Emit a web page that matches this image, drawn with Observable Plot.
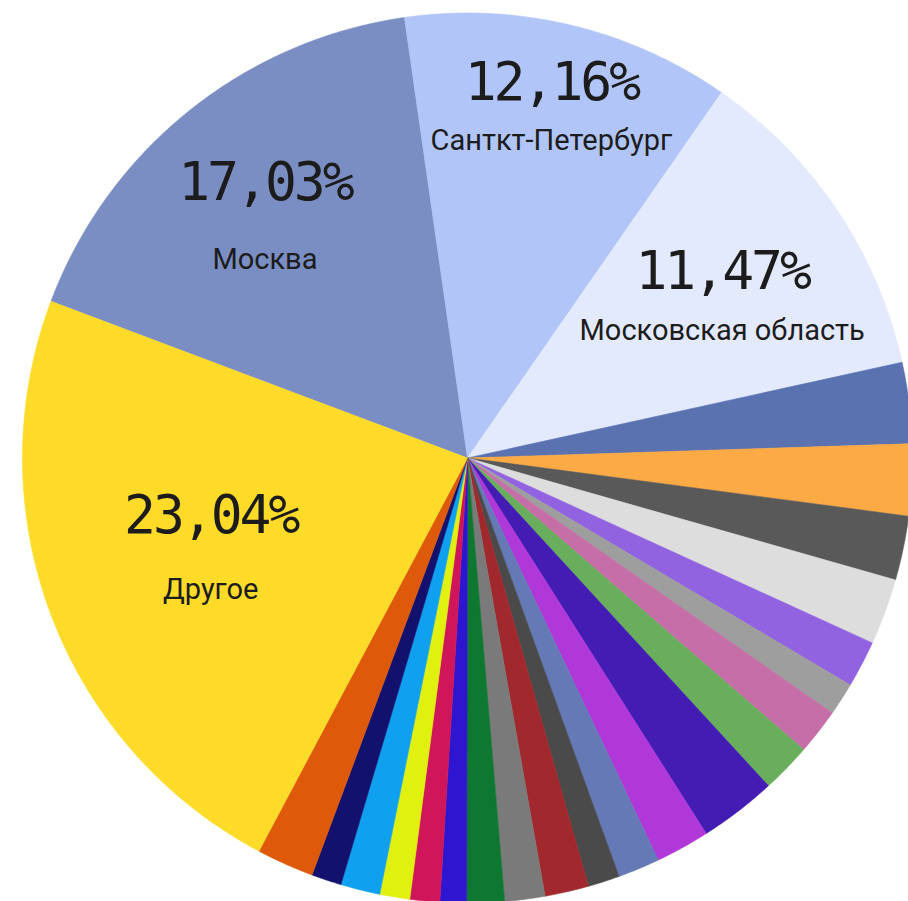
<!DOCTYPE html>
<html>
<head>
<meta charset="utf-8">
<script src="https://cdn.jsdelivr.net/npm/d3@7"></script>
<script src="https://cdn.jsdelivr.net/npm/@observablehq/plot@0.6"></script>
<style>
html, body { margin: 0; padding: 0; background: #ffffff; overflow: hidden; }
#chart svg { display: block; }
</style>
</head>
<body>
<div id="chart"></div>
<script>
// ---- DATA (clockwise starting with Москва) ----
const regions = [
  "Москва", "Санткт-Петербург", "Московская область",
  "Регион 4", "Регион 5", "Регион 6", "Регион 7", "Регион 8", "Регион 9",
  "Регион 10", "Регион 11", "Регион 12", "Регион 13", "Регион 14", "Регион 15",
  "Регион 16", "Регион 17", "Регион 18", "Регион 19", "Регион 20", "Регион 21",
  "Регион 22", "Регион 23", "Регион 24", "Другое"
];
const shares = [
  17.01, 11.93, 11.88,
  2.94, 2.60, 2.33, 2.40, 1.70, 1.19,
  1.66, 1.81, 2.81, 1.96, 1.52, 1.15,
  1.59, 1.46, 1.36, 0.96, 1.08, 1.09,
  1.43, 1.09, 2.08, 22.96
];
const sliceColors = [
  "#7b8ec4", "#b1c5f8", "#e4eafe",
  "#5a72b0", "#fbaa46", "#595959", "#dddddd", "#9263e0", "#9e9e9e",
  "#c56ea8", "#69ae5c", "#431cb3", "#b038d9", "#6479b6", "#4a4a4a",
  "#a1292d", "#7a7a7a", "#0e7730", "#2e16d0", "#d0165a", "#e0f00f",
  "#10a0f0", "#12126e", "#de5a0a", "#ffdb29"
];
const labelRegions = ["Москва", "Санткт-Петербург", "Московская область", "Другое"];
const labelPercents = ["17,03%", "12,16%", "11,47%", "23,04%"];

// ---- LAYOUT ----
const startAngleDeg = 290.61;
const labelRadius = [0.70, 0.80, 0.672, 0.615];
const labelAngleShift = [-1.8, 0.3, 2.2, 0.5];
const labelGap = [76, 57, 58, 74];

// ---- GEOMETRY from data ----
const total = d3.sum(shares);
let acc = startAngleDeg * Math.PI / 180;
const slices = regions.map((name, i) => {
  const a0 = acc;
  const a1 = acc + shares[i] / total * 2 * Math.PI;
  acc = a1;
  return {name, a0, a1, color: sliceColors[i]};
});

const pts = slices.flatMap(s => {
  const n = Math.max(2, Math.ceil((s.a1 - s.a0) / (Math.PI / 360)));
  const arr = [{name: s.name, color: s.color, x: 0, y: 0}];
  for (let k = 0; k <= n; k++) {
    const a = s.a0 + (s.a1 - s.a0) * k / n;
    arr.push({name: s.name, color: s.color, x: Math.sin(a), y: Math.cos(a)});
  }
  arr.push({name: s.name, color: s.color, x: 0, y: 0});
  return arr;
});

const labels = labelRegions.map((name, i) => {
  const s = slices.find(d => d.name === name);
  const mid = (s.a0 + s.a1) / 2 + labelAngleShift[i] * Math.PI / 180;
  return {
    name, pct: labelPercents[i],
    x: labelRadius[i] * Math.sin(mid),
    y: labelRadius[i] * Math.cos(mid),
    gap: labelGap[i]
  };
});

const cx = 467, cy = 457.5, R = 445;

const chart = Plot.plot({
  width: 908,
  height: 901,
  margin: 0,
  style: {background: "#ffffff", overflow: "hidden"},
  x: {domain: [-1, 1], range: [cx - R, cx + R], axis: null},
  y: {domain: [-1, 1], range: [cy + R, cy - R], axis: null},
  color: {type: "identity"},
  marks: [
    Plot.line(pts, {x: "x", y: "y", z: "name", fill: "color", stroke: "color", strokeWidth: 0.6, curve: "linear"}),
    ...labels.map(l => Plot.text([l], {
      x: "x", y: "y", text: "pct", dy: -l.gap / 2,
      fontFamily: "DejaVu Sans Mono", fontSize: 53, fill: "#1c1c1c",
      lineAnchor: "middle", textAnchor: "middle"
    })),
    ...labels.map(l => Plot.text([l], {
      x: "x", y: "y", text: "name", dy: l.gap / 2,
      fontFamily: "Roboto", fontSize: 29, fill: "#1c1c1c",
      lineAnchor: "middle", textAnchor: "middle"
    }))
  ]
});
d3.select(chart).selectAll('g[font-family="DejaVu Sans Mono"] text').attr("letter-spacing", "-3");
document.getElementById("chart").append(chart);
</script>
</body>
</html>
